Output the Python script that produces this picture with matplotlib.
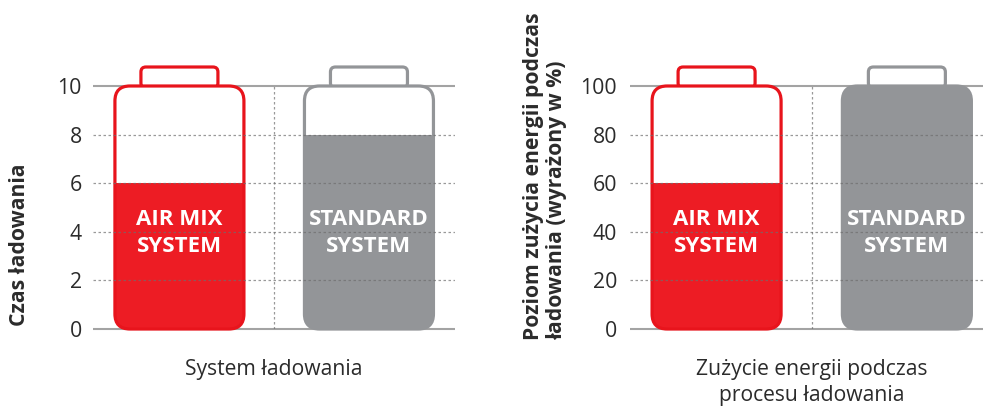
import matplotlib
matplotlib.use("Agg")
import matplotlib.pyplot as plt
from matplotlib.patches import FancyBboxPatch

plt.rcParams['font.family'] = ['Open Sans', 'DejaVu Sans']

# ---- data ----
categories = ['AIR MIX\nSYSTEM', 'STANDARD\nSYSTEM']
charge_time = [6, 8]
energy_use = [60, 100]
left_ticks = [0, 2, 4, 6, 8, 10]
right_ticks = [0, 20, 40, 60, 80, 100]
left_ylabel = 'Czas ładowania'
right_ylabel = 'Poziom zużycia energii podczas\nładowania (wyrażony w %)'
left_xlabel = 'System ładowania'
right_xlabel = 'Zużycie energii podczas\nprocesu ładowania'

fill_colors = ['#ed1c24', '#939598']
edge_colors = ['#e8141c', '#939598']
text_color = '#2b2b2b'

W, H = 983, 409
fig = plt.figure(figsize=(W / 100, H / 100), dpi=100)


def px_axes(x0, x1, ytop, ybot):
    return fig.add_axes([x0 / W, (H - ybot) / H, (x1 - x0) / W, (ybot - ytop) / H])


def draw(ax, values, ticks, xlim, pad):
    ymax = ticks[-1]
    ax.set_xlim(*xlim)
    ax.set_ylim(0, ymax)
    for s in ax.spines.values():
        s.set_visible(False)
    ax.set_xticks([])
    ax.set_yticks(ticks)
    ax.tick_params(axis='y', length=0, pad=pad, labelsize=15.3, labelcolor=text_color)

    p0 = ax.transData.transform((0, 0))
    p1 = ax.transData.transform((1, ymax))
    px = p1[0] - p0[0]          # pixels per x unit
    py = (p1[1] - p0[1]) / ymax  # pixels per y unit
    aspect = px / py

    w = 129 / px
    r = 15 / px
    cw = 77 / px
    ch = 19 / py
    cr = 5 / px
    lw = 2.3

    for i, v in enumerate(values):
        cap = FancyBboxPatch((i - cw / 2, ymax - ch * 0.1), cw, ch * 1.1,
                             boxstyle=f"round,pad=0,rounding_size={cr}",
                             mutation_aspect=aspect, fc='white', ec=edge_colors[i],
                             lw=lw, zorder=1.8, clip_on=False)
        ax.add_patch(cap)
        body = FancyBboxPatch((i - w / 2, 0), w, ymax,
                              boxstyle=f"round,pad=0,rounding_size={r}",
                              mutation_aspect=aspect, fc='white', ec='none',
                              zorder=2, clip_on=False)
        ax.add_patch(body)
        bars = ax.bar([i], [v], width=w, bottom=0, color=fill_colors[i], zorder=2.5)
        for b in bars:
            b.set_clip_path(body)
        outline = FancyBboxPatch((i - w / 2, 0), w, ymax,
                                 boxstyle=f"round,pad=0,rounding_size={r}",
                                 mutation_aspect=aspect, fc='none', ec=edge_colors[i],
                                 lw=lw, zorder=3.5, clip_on=False)
        ax.add_patch(outline)
        ax.text(i, ymax * 0.395, categories[i], ha='center', va='center',
                color='white', fontsize=16, fontweight='bold', linespacing=1.35,
                zorder=6)

    # grid
    ax.hlines(ticks[1:-1], 0, 1, transform=ax.get_yaxis_transform(),
              colors='#6e6e6e', linestyles=(0, (2, 2)), lw=0.9, alpha=0.7, zorder=4)
    ax.vlines([0.5], 0, ymax, colors='#6e6e6e', linestyles=(0, (2, 2)), lw=0.9,
              alpha=0.7, zorder=4)
    ax.hlines([0, ymax], 0, 1, transform=ax.get_yaxis_transform(),
              colors='#a3a3a3', lw=1.5, zorder=1.5, clip_on=False)


ax1 = px_axes(93, 455, 86, 329)
draw(ax1, charge_time, left_ticks, (-0.456, 1.454), 8)
ax2 = px_axes(630, 983, 86, 329)
draw(ax2, energy_use, right_ticks, (-0.455, 1.40), 9.4)

fig.text(20 / W, 1 - 245 / H, left_ylabel, rotation=90, ha='center', va='center',
         fontsize=15.2, fontweight='bold', color=text_color)
fig.text(545 / W, 1 - 340 / H, right_ylabel, rotation=90, ha='center', va='bottom',
         ma='left', fontsize=15.2, fontweight='bold', color=text_color, linespacing=1.16)
fig.text(274 / W, 1 - 370 / H, left_xlabel, ha='center', va='center',
         fontsize=15.2, color=text_color)
fig.text(812 / W, 1 - 382.5 / H, right_xlabel, ha='center', va='center',
         fontsize=15.2, color=text_color, linespacing=1.33)

fig.savefig('out.png', dpi=100, facecolor='white')
